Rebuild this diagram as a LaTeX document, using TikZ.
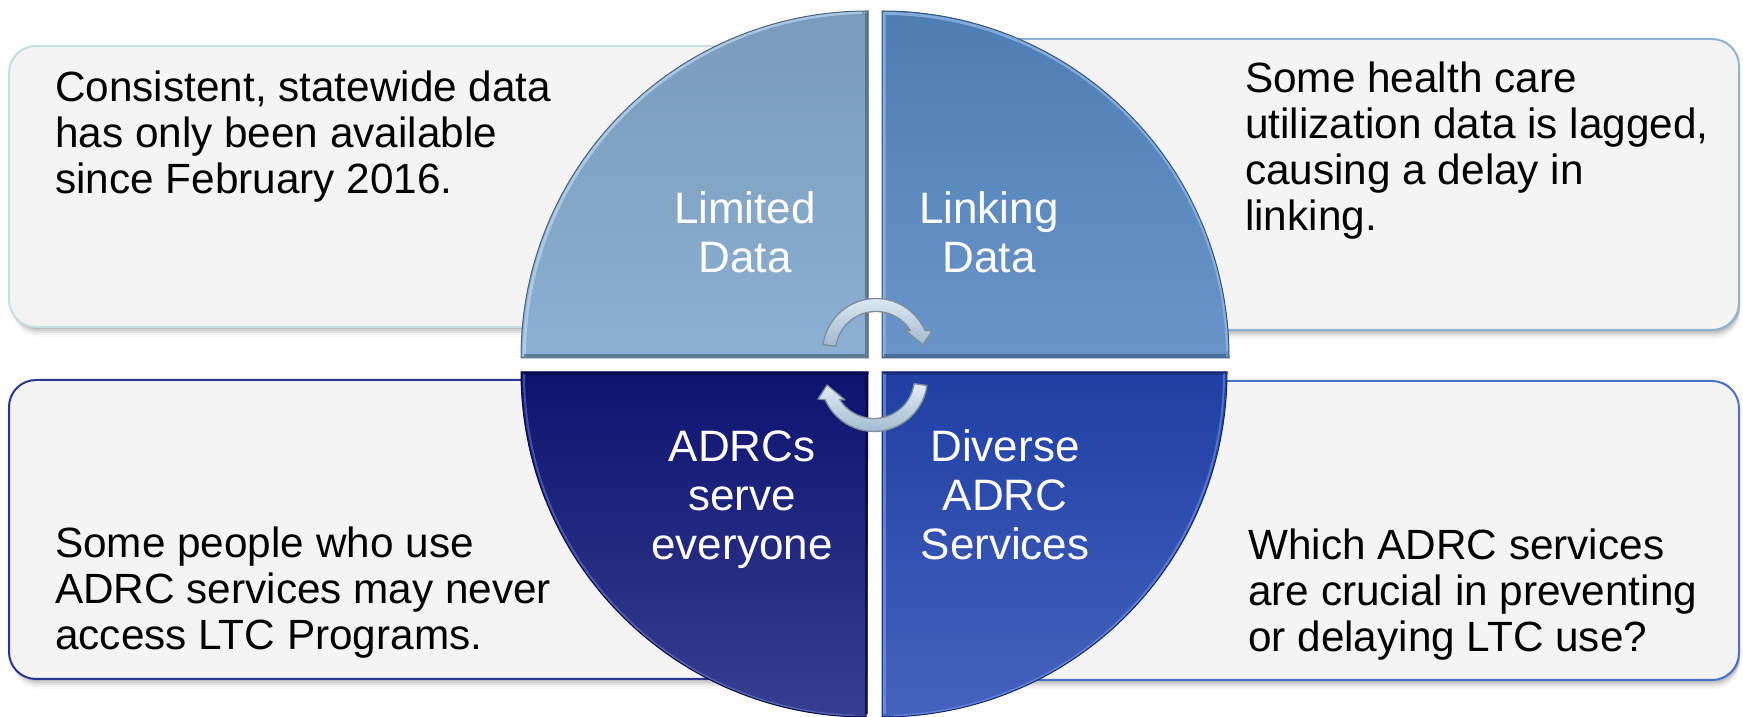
\documentclass[tikz,border=0pt]{standalone}
\usepackage{fontspec}
\setmainfont{Liberation Sans}
\usetikzlibrary{calc}
\definecolor{boxfill}{HTML}{F4F4F4}
\definecolor{tlB}{HTML}{C6DFE2}
\definecolor{trB}{HTML}{8CB2D4}
\definecolor{blB}{HTML}{2B3593}
\definecolor{brB}{HTML}{4B70C8}
\definecolor{tlTop}{HTML}{7A9BBB}
\definecolor{tlBot}{HTML}{8CB0D2}
\definecolor{tlDk}{HTML}{4F6678}
\definecolor{tlHi}{HTML}{B4D2EE}
\definecolor{trTop}{HTML}{4E7DB3}
\definecolor{trBot}{HTML}{6A95CA}
\definecolor{trDk}{HTML}{35577E}
\definecolor{trHi}{HTML}{8DB6E6}
\definecolor{blTop}{HTML}{0E1370}
\definecolor{blBot}{HTML}{383E8F}
\definecolor{blDk}{HTML}{070A45}
\definecolor{blHi}{HTML}{6F86D8}
\definecolor{brTop}{HTML}{1F3FA4}
\definecolor{brBot}{HTML}{4563BD}
\definecolor{brDk}{HTML}{142A70}
\definecolor{brHi}{HTML}{7FA3F0}
\definecolor{arTop}{HTML}{E0ECF6}
\definecolor{arBot}{HTML}{9FB8CE}
\definecolor{arEdge}{HTML}{7E8C98}
\newcommand\boxshade[4]{%
  \foreach \d/\o in {2/0.10,4/0.08,6/0.06,8/0.04,10/0.02}{%
    \fill[black,opacity=\o,rounded corners=27pt] (#1+3,#2-\d) rectangle (#3+1,#4-\d);}}
\begin{document}
\begin{tikzpicture}[x=1pt,y=1pt,
  tbox/.style={rounded corners=27pt, line width=2pt, fill=boxfill},
  boxtext/.style={anchor=base west, inner sep=0pt, align=left,
    font=\fontsize{42.3}{46}\selectfont, text=black},
  quadtext/.style={anchor=base, inner sep=0pt, align=center,
    font=\fontsize{44}{49}\selectfont, text=white},
  cyc/.style={top color=arTop, bottom color=arBot, draw=arEdge, line width=1.3pt, line join=round}]
\useasboundingbox (0,0) rectangle (1743,717);
\fill[white] (0,0) rectangle (1743,717);

% text boxes (behind the circle)
\boxshade{9}{390}{800}{671}
\draw[tbox, draw=tlB] (9,390) rectangle (800,671);
\boxshade{990}{387}{1739}{678}
\draw[tbox, draw=trB] (990,387) rectangle (1739,678);
\boxshade{9}{38}{800}{337}
\draw[tbox, draw=blB] (9,38) rectangle (800,337);
\boxshade{990}{37}{1739}{336}
\draw[tbox, draw=brB] (990,37) rectangle (1739,336);

% anchor base = baseline of the last line
\node[boxtext] (t1) at (55,523) {Consistent, statewide data\\has only been available\\since February 2016.};
\node[boxtext] (t2) at (1245,486) {Some health care\\utilization data is lagged,\\causing a delay in\\linking.};
\node[boxtext] (t3) at (55,67) {Some people who use\\ADRC services may never\\access LTC Programs.};
\node[boxtext] (t4) at (1248,65) {Which ADRC services\\are crucial in preventing\\or delaying LTC use?};

% quadrants
% top left
\fill[top color=tlTop, bottom color=tlBot] (868,359) -- (521,359) arc[start angle=180,end angle=90,radius=347] -- cycle;
\draw[tlHi, line width=3pt, opacity=.8] (524.5,361) arc[start angle=180,end angle=91,radius=343.5];
\draw[tlDk, line width=3pt, opacity=.7] (866,704) -- (866,361) -- (524,361);
\draw[tlDk, line width=1pt] (868,359) -- (521,359) arc[start angle=180,end angle=90,radius=347] -- cycle;
% top right
\fill[top color=trTop, bottom color=trBot] (882,359) -- (882,706) arc[start angle=90,end angle=0,radius=347] -- cycle;
\draw[trHi, line width=3pt, opacity=.8] (884,361) -- (884,703.5) arc[start angle=90,end angle=1,radius=343.5];
\draw[trDk, line width=3pt, opacity=.6] (884,361) -- (1226,361);
\draw[trDk, line width=1pt] (882,359) -- (882,706) arc[start angle=90,end angle=0,radius=347] -- cycle;
% bottom left
\fill[top color=blTop, bottom color=blBot] (868,345) -- (521,345) arc[start angle=180,end angle=270,radius=345] -- cycle;
\draw[blDk, line width=3pt, opacity=.8] (524,343) -- (866,343) -- (866,3);
\draw[blHi, line width=2pt, opacity=.5] (524,343) arc[start angle=180,end angle=268,radius=342];
\draw[blDk, line width=1pt] (868,345) -- (521,345) arc[start angle=180,end angle=270,radius=345] -- cycle;
% bottom right
\fill[top color=brTop, bottom color=brBot] (882,345) -- (1227,345) arc[start angle=0,end angle=-90,radius=345] -- cycle;
\draw[brDk, line width=3pt, opacity=.7] (884,343) -- (1224,343);
\draw[brHi, line width=3pt, opacity=.6] (884,343) -- (884,3);
\draw[brHi, line width=2pt, opacity=.5] (1224,343) arc[start angle=0,end angle=-88,radius=342];
\draw[brDk, line width=1pt] (882,345) -- (1227,345) arc[start angle=0,end angle=-90,radius=345] -- cycle;

\node[quadtext] (q1) at (745,444) {Limited\\Data};
\node[quadtext] (q2) at (989,444) {Linking\\Data};
\node[quadtext] (q3) at (742,157) {ADRCs\\serve\\everyone};
\node[quadtext] (q4) at (1005,157) {Diverse\\ADRC\\Services};

% circular arrows
\coordinate (c1) at (876,365);
\coordinate (c2) at (874,339);
\path[cyc] ($(c1)+(172:53.5)$) arc[start angle=172,end angle=24,radius=53.5]
  -- ($(c1)+(20.6:59.8)$) -- ($(c1)+(8.5:47.5)$) -- ($(c1)+(37:36.4)$)
  -- ($(c1)+(32:40.5)$) arc[start angle=32,end angle=172,radius=40.5] -- cycle;
\path[cyc] ($(c2)+(352:53.5)$) arc[start angle=352,end angle=204,radius=53.5]
  -- ($(c2)+(200.6:59.8)$) -- ($(c2)+(188.5:47.5)$) -- ($(c2)+(217:36.4)$)
  -- ($(c2)+(212:40.5)$) arc[start angle=212,end angle=352,radius=40.5] -- cycle;
\end{tikzpicture}
\end{document}
